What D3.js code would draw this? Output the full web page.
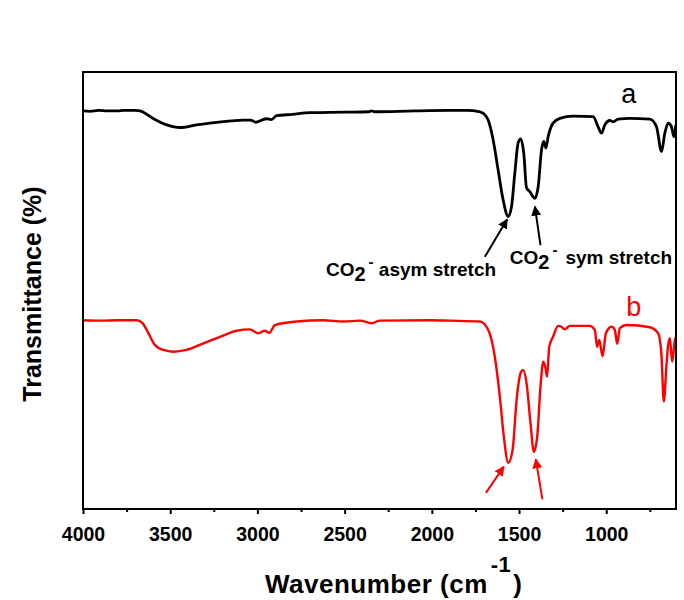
<!DOCTYPE html>
<html>
<head>
<meta charset="utf-8">
<script src="https://cdn.jsdelivr.net/npm/d3@7"></script>
<style>
  body { margin: 0; background: #fff; }
  svg { display: block; }
  text { font-family: Arial, "Liberation Sans", sans-serif; }
</style>
</head>
<body>
<svg id="chart" width="684" height="600"></svg>
<script>
// FTIR spectra: wavenumber (cm^-1) and transmittance (%, offset for stacking)
const wavenumberA = [4000, 3960, 3910, 3860, 3800, 3770, 3700, 3673, 3600, 3520, 3444, 3350, 3272, 3150, 3083, 3040, 3008, 2975, 2947, 2920, 2890, 2800, 2699, 2500, 2360, 2345, 2330, 2100, 1900, 1800, 1724, 1700, 1677, 1648, 1620, 1591, 1562, 1543, 1524, 1505, 1490, 1473, 1457, 1438, 1409, 1390, 1371, 1358, 1346, 1333, 1305, 1266, 1190, 1075, 1047, 1027, 1008, 979, 960, 931, 865, 750, 712, 683, 664, 645, 626, 612, 601];
const transA = [91.1, 91.0, 91.2, 91.1, 91.1, 91.2, 91.2, 91.1, 89.4, 87.9, 87.3, 87.9, 88.3, 88.8, 89.0, 89.0, 88.5, 89.0, 89.3, 89.1, 90.0, 90.3, 90.7, 90.8, 90.9, 91.1, 90.9, 91.1, 91.2, 91.2, 90.9, 90.4, 89.0, 84.4, 77.6, 70.7, 66.9, 69.2, 76.9, 83.8, 84.7, 81.5, 73.5, 72.6, 71.1, 73.8, 82.2, 84.1, 82.6, 85.2, 88.3, 89.4, 89.9, 89.8, 87.5, 86.0, 87.9, 88.9, 88.6, 89.2, 89.4, 89.2, 87.5, 81.8, 86.0, 88.3, 87.5, 85.2, 87.9];

const wavenumberB = [4000, 3900, 3800, 3692, 3660, 3635, 3587, 3540, 3482, 3406, 3310, 3215, 3119, 3043, 2995, 2957, 2932, 2900, 2775, 2623, 2508, 2412, 2346, 2298, 2000, 1896, 1724, 1677, 1639, 1610, 1587, 1562, 1537, 1514, 1491, 1476, 1457, 1434, 1415, 1396, 1377, 1361, 1348, 1339, 1327, 1305, 1276, 1257, 1238, 1209, 1095, 1066, 1052, 1040, 1021, 1002, 970, 951, 937, 922, 884, 750, 702, 683, 670, 654, 645, 635, 622, 606, 600];
const transB = [43.2, 43.1, 43.2, 43.2, 42.6, 41.0, 37.5, 36.4, 36.0, 36.4, 37.9, 39.4, 40.8, 41.1, 40.2, 40.8, 40.3, 42.1, 42.9, 43.2, 42.9, 43.1, 42.5, 43.1, 43.2, 43.1, 42.9, 41.0, 34.9, 25.7, 16.5, 10.6, 13.5, 24.9, 31.1, 31.8, 28.8, 19.6, 13.1, 16.5, 28.0, 33.7, 32.2, 30.3, 37.1, 39.4, 41.9, 41.7, 41.1, 41.9, 41.9, 41.0, 37.1, 38.7, 35.0, 40.2, 41.7, 41.0, 37.8, 41.4, 42.1, 41.6, 40.2, 34.9, 24.6, 33.3, 37.5, 39.1, 33.7, 38.7, 39.4];

const majorTicks = [4000, 3500, 3000, 2500, 2000, 1500, 1000];
const minorTicks = [3750, 3250, 2750, 2250, 1750, 1250, 750];

const svg = d3.select("#chart");
const plotLeft = 83, plotRight = 676, plotTop = 72, plotBottom = 509;

const x = d3.scaleLinear().domain([4000, 600]).range([plotLeft, plotRight]);
const y = d3.scaleLinear().domain([0, 100]).range([plotBottom, plotTop]);

// bottom axis: major ticks with labels, minor ticks without
const ax = svg.append("g").attr("transform", `translate(0,${plotBottom})`)
  .call(d3.axisBottom(x).tickValues(majorTicks).tickSize(5).tickPadding(13).tickFormat(d3.format("d")));
ax.select(".domain").remove();
ax.selectAll(".tick line").attr("stroke", "#000").attr("stroke-width", 2);
ax.selectAll(".tick text").attr("font-size", 19.5).attr("font-weight", "bold")
  .attr("fill", "#000").attr("font-family", "Arial, 'Liberation Sans', sans-serif");

const axm = svg.append("g").attr("transform", `translate(0,${plotBottom})`)
  .call(d3.axisBottom(x).tickValues(minorTicks).tickSize(3).tickFormat(""));
axm.select(".domain").remove();
axm.selectAll(".tick line").attr("stroke", "#000").attr("stroke-width", 2);

// spectra
const line = d3.line().x(d => x(d[0])).y(d => y(d[1])).curve(d3.curveMonotoneX);
svg.append("path").datum(d3.zip(wavenumberA, transA))
  .attr("d", line).attr("fill", "none").attr("stroke", "#000")
  .attr("stroke-width", 2.8).attr("stroke-linejoin", "round");
svg.append("path").datum(d3.zip(wavenumberB, transB))
  .attr("d", line).attr("fill", "none").attr("stroke", "#ff0000")
  .attr("stroke-width", 2.4).attr("stroke-linejoin", "round");

// frame
svg.append("rect").attr("x", plotLeft).attr("y", plotTop)
  .attr("width", plotRight - plotLeft).attr("height", plotBottom - plotTop)
  .attr("fill", "none").attr("stroke", "#000").attr("stroke-width", 2);

// arrow heads
const defs = svg.append("defs");
[["head-k", "#000"], ["head-r", "#ff0000"]].forEach(([id, c]) => {
  defs.append("marker").attr("id", id).attr("viewBox", "0 0 10 10")
    .attr("refX", 9).attr("refY", 5).attr("markerWidth", 5).attr("markerHeight", 5)
    .attr("orient", "auto").attr("markerUnits", "strokeWidth")
    .append("path").attr("d", "M0,0 L10,5 L0,10 z").attr("fill", c);
});

const arrowsA = [[1696, 57.7, 1568, 66.3], [1377, 60.4, 1409, 69.2]];
const arrowsB = [[1690, 3.7, 1587, 9.7], [1366, 2.2, 1404, 11.4]];
function drawArrows(list, color, marker) {
  svg.append("g").selectAll("line").data(list).join("line")
    .attr("x1", d => x(d[0])).attr("y1", d => y(d[1]))
    .attr("x2", d => x(d[2])).attr("y2", d => y(d[3]))
    .attr("stroke", color).attr("stroke-width", 2)
    .attr("marker-end", `url(#${marker})`);
}
drawArrows(arrowsA, "#000", "head-k");
drawArrows(arrowsB, "#ff0000", "head-r");

// band annotations: CO2^- with subscript 2 and superscript minus
function bandLabel(w, t, rest, gap) {
  const tx = svg.append("text").attr("x", x(w)).attr("y", y(t))
    .attr("font-size", 19).attr("font-weight", "bold").attr("fill", "#000");
  tx.append("tspan").text("CO");
  tx.append("tspan").attr("dy", 5).attr("font-size", 20).text("2");
  tx.append("tspan").attr("dy", -14).attr("dx", 3).attr("font-size", 15).text("-");
  tx.append("tspan").attr("dy", 9).attr("dx", gap).attr("xml:space", "preserve").text(rest);
}
bandLabel(2607, 53.3, " asym stretch", 0);
bandLabel(1553, 56.1, "sym stretch", 8);

// series labels
svg.append("text").attr("x", x(871)).attr("y", y(92.9)).attr("text-anchor", "middle")
  .attr("font-size", 27).attr("fill", "#000").text("a");
svg.append("text").attr("x", x(842)).attr("y", y(44.2)).attr("text-anchor", "middle")
  .attr("font-size", 27).attr("fill", "#ff0000").text("b");

// axis titles
const xt = svg.append("text").attr("x", 265).attr("y", 593)
  .attr("font-size", 26).attr("font-weight", "bold").attr("letter-spacing", 0.5).attr("fill", "#000");
xt.append("tspan").text("Wavenumber (cm");
xt.append("tspan").attr("dx", 3).attr("dy", -21).attr("font-size", 22).text("-1");
xt.append("tspan").attr("dx", 2).attr("dy", 21).text(")");

svg.append("text").attr("transform", `translate(41,294) rotate(-90)`)
  .attr("text-anchor", "middle").attr("font-size", 25).attr("font-weight", "bold")
  .attr("fill", "#000").text("Transmittance (%)");
</script>
</body>
</html>
